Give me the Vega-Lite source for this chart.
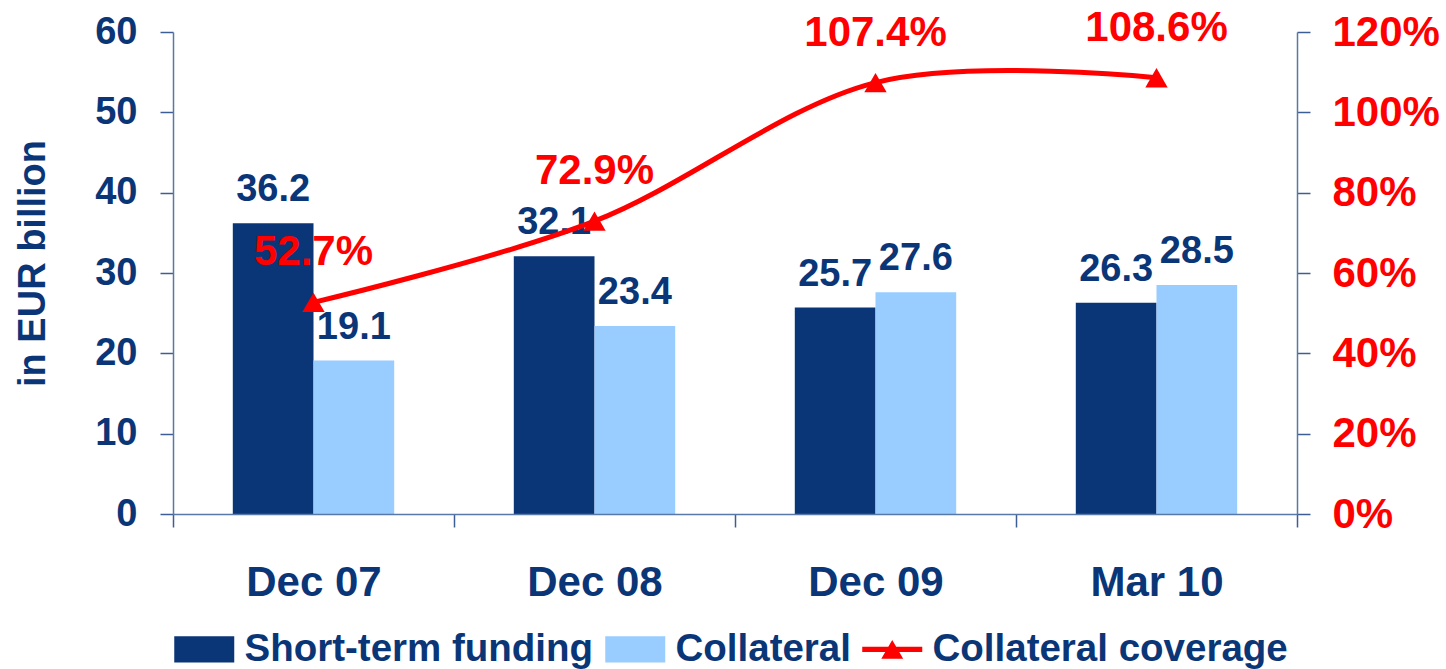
{
  "$schema": "https://vega.github.io/schema/vega-lite/v6.json",
  "width": 1124,
  "height": 482,
  "autosize": "none",
  "padding": {"left": 173, "top": 32, "right": 149, "bottom": 155},
  "background": "white",
  "datasets": {
    "bars": [
      {"period": "Dec 07", "series": "Short-term funding", "value": 36.2},
      {"period": "Dec 07", "series": "Collateral", "value": 19.1},
      {"period": "Dec 08", "series": "Short-term funding", "value": 32.1},
      {"period": "Dec 08", "series": "Collateral", "value": 23.4},
      {"period": "Dec 09", "series": "Short-term funding", "value": 25.7},
      {"period": "Dec 09", "series": "Collateral", "value": 27.6},
      {"period": "Mar 10", "series": "Short-term funding", "value": 26.3},
      {"period": "Mar 10", "series": "Collateral", "value": 28.5}
    ],
    "coverage": [
      {"period": "Dec 07", "ratio": 0.527},
      {"period": "Dec 08", "ratio": 0.729},
      {"period": "Dec 09", "ratio": 1.074},
      {"period": "Mar 10", "ratio": 1.086}
    ]
  },
  "layer": [
    {
      "data": {"name": "bars"},
      "encoding": {
        "x": {
          "field": "period", "type": "nominal",
          "sort": ["Dec 07", "Dec 08", "Dec 09", "Mar 10"],
          "scale": {"paddingInner": 0, "paddingOuter": 0},
          "axis": {
            "title": null, "labelAngle": 0, "tickBand": "extent", "zindex": 1,
            "labelFont": "Liberation Sans", "labelFontSize": 42, "labelFontWeight": "bold", "labelColor": "#0A3677",
            "labelPadding": 35, "tickSize": 13, "tickColor": "#3D5E94", "tickWidth": 1.5,
            "domainColor": "#5878A8", "domainWidth": 1.5, "grid": false,
            "encode": {"ticks": {"y": {"value": -13}, "update": {"y": {"value": -13}}}}
          }
        },
        "xOffset": {
          "field": "series", "type": "nominal",
          "sort": ["Short-term funding", "Collateral"],
          "scale": {"paddingInner": 0, "paddingOuter": 0.741}
        },
        "y": {
          "field": "value", "type": "quantitative",
          "scale": {"domain": [0, 60]},
          "axis": {
            "title": "in EUR billion", "values": [0, 10, 20, 30, 40, 50, 60], "zindex": 1,
            "titleFont": "Liberation Sans", "titleFontSize": 38, "titleFontWeight": "bold", "titleColor": "#0A3677", "titlePadding": 42, "titleY": 231,
            "labelFont": "Liberation Sans", "labelFontSize": 38, "labelFontWeight": "bold", "labelColor": "#0A3677",
            "labelPadding": 23, "tickSize": 13, "tickColor": "#3D5E94", "tickWidth": 1.5,
            "domainColor": "#5878A8", "domainWidth": 1.5, "grid": false,
            "encode": {"ticks": {"x": {"value": 13}, "update": {"x": {"value": 13}}}}
          }
        }
      },
      "layer": [
        {
          "mark": {"type": "bar"},
          "encoding": {
            "color": {
              "field": "series", "type": "nominal",
              "scale": {
                "domain": ["Short-term funding", "Collateral", "Collateral coverage"],
                "range": ["#0A3677", "#99CCFF", "#FF0000"]
              },
              "legend": {
                "title": null, "orient": "none", "legendX": -3, "legendY": 598,
                "direction": "horizontal", "columns": 3, "padding": 0,
                "labelFont": "Liberation Sans", "labelFontSize": 38.5, "labelFontWeight": "bold", "labelColor": "#0A3677",
                "labelLimit": 600,
                "symbolSize": 900, "labelOffset": 36, "columnPadding": 7,
                "encode": {
                  "symbols": {
                    "update": {
                      "shape": {"signal": "datum.value === 'Collateral coverage' ? 'M-1,-0.17H3V0.17H-1Z M0.27,0.63L1,-0.63L1.73,0.63Z' : 'M-1,-0.87H3V0.87H-1Z'"},
                      "fill": {"signal": "scale('color', datum.value)"},
                      "stroke": {"value": "transparent"},
                      "strokeWidth": {"value": 0},
                      "opacity": {"value": 1}
                    }
                  }
                }
              }
            }
          }
        },
        {
          "mark": {"type": "text", "font": "Liberation Sans", "fontSize": 38, "fontWeight": "bold", "color": "#0A3677", "baseline": "alphabetic", "dy": -22},
          "encoding": {
            "text": {"field": "value", "type": "quantitative", "format": ".1f"}
          }
        }
      ]
    },
    {
      "data": {"name": "coverage"},
      "encoding": {
        "x": {"field": "period", "type": "nominal", "sort": ["Dec 07", "Dec 08", "Dec 09", "Mar 10"]},
        "y": {
          "field": "ratio", "type": "quantitative",
          "scale": {"domain": [0, 1.2]},
          "axis": {
            "orient": "right", "title": null, "format": ".0%", "values": [0, 0.2, 0.4, 0.6, 0.8, 1.0, 1.2], "zindex": 1,
            "labelFont": "Liberation Sans", "labelFontSize": 42, "labelFontWeight": "bold", "labelColor": "#FF0000",
            "labelPadding": 22, "tickSize": 13, "tickColor": "#3D5E94", "tickWidth": 1.5,
            "domainColor": "#5878A8", "domainWidth": 1.5, "grid": false,
            "encode": {"ticks": {"x": {"value": -13}, "update": {"x": {"value": -13}}}}
          }
        }
      },
      "layer": [
        {
          "mark": {"type": "line", "interpolate": "cardinal", "strokeWidth": 5},
          "encoding": {"color": {"datum": "Collateral coverage"}}
        },
        {
          "mark": {"type": "point", "shape": "triangle-up", "filled": true, "size": 500, "color": "#FF0000", "opacity": 1}
        },
        {
          "mark": {"type": "text", "font": "Liberation Sans", "fontSize": 42, "fontWeight": "bold", "color": "#FF0000", "baseline": "alphabetic", "dy": -37},
          "encoding": {"text": {"field": "ratio", "type": "quantitative", "format": ".1%"}}
        }
      ]
    }
  ],
  "resolve": {"scale": {"y": "independent"}},
  "config": {"view": {"stroke": null}, "axis": {"grid": false}}
}
